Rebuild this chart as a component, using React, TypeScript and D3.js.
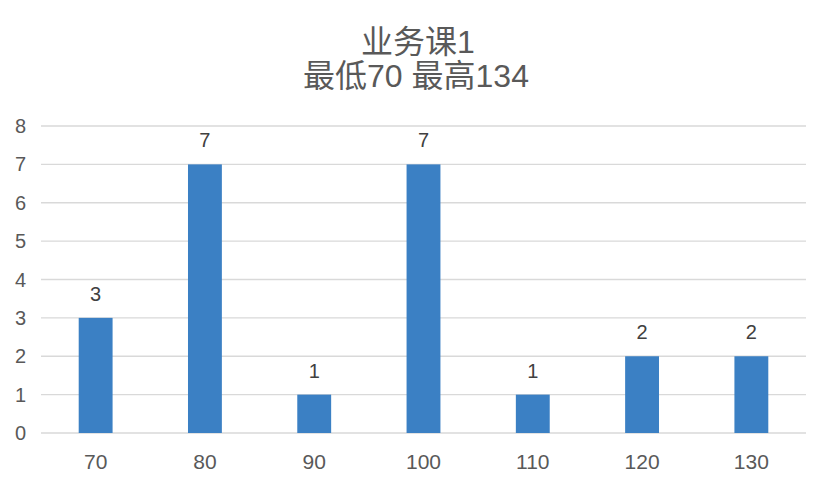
import React from "react";
import * as d3 from "d3";

const categories = ["70", "80", "90", "100", "110", "120", "130"];
const counts = [3, 7, 1, 7, 1, 2, 2];
const yTicks = [0, 1, 2, 3, 4, 5, 6, 7, 8];
const titleLines = ["业务课1", "最低70 最高134"];

const W = 836;
const H = 480;
const M = { left: 41, right: 30, top: 126, bottom: 47 };

export default function App() {
  const x = d3
    .scaleBand<string>()
    .domain(categories)
    .range([M.left, W - M.right])
    .paddingInner(0.69)
    .paddingOuter(0.345);
  const y = d3.scaleLinear().domain([0, 8]).range([H - M.bottom, M.top]);
  const font = "'Helvetica Neue', Arial, 'Liberation Sans', 'Noto Sans CJK SC', sans-serif";
  const textColor = "#595959";
  return (
    <svg
      width={W}
      height={H}
      style={{ position: "absolute", left: 0, top: 0, background: "#fff", fontFamily: font }}
    >
      <text x={418} y={53} textAnchor="middle" fontSize={32} fill={textColor}>
        {titleLines[0]}
      </text>
      <text x={416} y={87} textAnchor="middle" fontSize={32} fill={textColor}>
        {titleLines[1]}
      </text>
      {yTicks.map((t) => (
        <g key={t}>
          <line
            x1={M.left}
            x2={W - M.right}
            y1={y(t)}
            y2={y(t)}
            stroke="#d9d9d9"
            strokeWidth={1.3}
          />
          <text x={26} y={y(t)} dy="0.35em" textAnchor="end" fontSize={20} fill={textColor}>
            {t}
          </text>
        </g>
      ))}
      {categories.map((c, i) => (
        <g key={c}>
          <rect
            x={x(c)}
            y={y(counts[i])}
            width={x.bandwidth()}
            height={y(0) - y(counts[i])}
            fill="#3b80c4"
          />
          <text
            x={(x(c) as number) + x.bandwidth() / 2}
            y={y(counts[i]) - 17}
            textAnchor="middle"
            fontSize={20}
            fill="#404040"
          >
            {counts[i]}
          </text>
          <text
            x={(x(c) as number) + x.bandwidth() / 2}
            y={469}
            textAnchor="middle"
            fontSize={21}
            fill={textColor}
          >
            {c}
          </text>
        </g>
      ))}
    </svg>
  );
}
